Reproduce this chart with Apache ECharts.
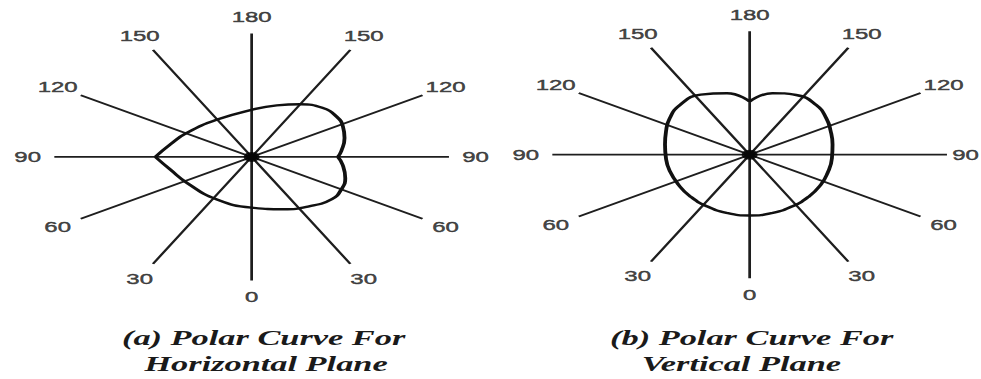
<!DOCTYPE html>
<html>
<head>
<meta charset="utf-8">
<title>Polar Curves</title>
<script src="https://cdn.jsdelivr.net/npm/echarts@6/dist/echarts.min.js"></script>
<style>
  html, body { margin: 0; padding: 0; background: #fff; overflow: hidden; width: 981px; height: 379px; }
  /* the diagrams are drawn round and then widened to the page width */
  #chart { width: 614px; height: 379px; transform: scaleX(1.59772); transform-origin: 0 0; }
</style>
</head>
<body>
<div id="chart"></div>
<script>
// Spoke directions (0 at the bottom, going round through 90 on the left and 180 at the top)
const spokeAngles = [0, 30, 60, 90, 120, 150, 180, 210, 240, 270, 300, 330];
// Text written at the end of each spoke
const tickLabels  = ['0', '30', '60', '90', '120', '150', '180', '150', '120', '90', '60', '30'];

// (a) Horizontal plane: upper arc, from the point on the left over the top to the notch on the right
const hUpperAngle  = [90,    104,   121,   150,   180,   197,   210,   222,   233,   242,   252,   264,   270];
const hUpperRadius = [0.488, 0.424, 0.381, 0.349, 0.381, 0.436, 0.492, 0.535, 0.54,  0.524, 0.495, 0.457, 0.437];
// (a) Horizontal plane: lower arc, from the notch on the right under the bottom back to the point
const hLowerAngle  = [270,   278,   290,   300,   310,   324,   339,   360,   27,    57,    76,    90];
const hLowerRadius = [0.437, 0.466, 0.505, 0.525, 0.531, 0.495, 0.454, 0.411, 0.387, 0.389, 0.425, 0.488];

// (b) Vertical plane: heart shape, starting and ending at the notch at 180
const vAngle  = [180,   193,   206,   220,   233,   245,   259,   274,   291,   304,   318,   332,   346,   360,
                 14,    28,    42,    56,    72,    86,    101,   114,   126,   139,   153,   167,   180];
const vRadius = [0.431, 0.511, 0.538, 0.525, 0.487, 0.453, 0.428, 0.418, 0.422, 0.435, 0.452, 0.47,  0.485, 0.492,
                 0.485, 0.47,  0.452, 0.435, 0.426, 0.425, 0.437, 0.464, 0.501, 0.536, 0.546, 0.511, 0.431];

// Diagram captions
const captions = [
  ['(a) Polar Curve For', 'Horizontal Plane'],
  ['(b) Polar Curve For', 'Vertical Plane']
];

const toPolar = (radii, angles) => radii.map((r, i) => [r, angles[i]]);

const LABEL_RADIUS = 1.135;   // spoke text sits just beyond the spoke ends (radius axis runs 0..1)

const curveStyle = { color: '#111', width: 2.4 };
const titleText = {
  fontFamily: 'Liberation Serif',
  fontStyle: 'italic',
  fontWeight: 'bold',
  fontSize: 21.5,
  color: '#1a1a1a'
};

// spoke-end texts for one diagram, as an invisible scatter carrying labels
function spokeLabels(polarIndex) {
  return {
    type: 'scatter',
    coordinateSystem: 'polar',
    polarIndex: polarIndex,
    silent: true,
    clip: false,
    symbol: 'circle',
    symbolSize: 0.1,
    itemStyle: { color: 'rgba(0,0,0,0)' },
    data: spokeAngles.map((a, i) => {
      const item = { value: [LABEL_RADIUS, a], name: tickLabels[i] };
      // keep the right-hand "90" of the second diagram inside the page
      if (polarIndex === 1 && a === 270) item.label = { offset: [-5, 0] };
      return item;
    }),
    label: {
      show: true,
      position: 'inside',
      formatter: p => p.name,
      color: '#1a1a1a',
      fontFamily: 'Liberation Sans',
      fontSize: 15,
      textBorderColor: '#1a1a1a',
      textBorderWidth: 0.45
    }
  };
}

const chart = echarts.init(document.getElementById('chart'), null, { renderer: 'svg' });

chart.setOption({
  animation: false,
  backgroundColor: '#fff',
  title: [
    { text: captions[0][0], left: 165, top: 326, textAlign: 'center', padding: 0, textStyle: titleText },
    { text: captions[0][1], left: 166.5, top: 352, textAlign: 'center', padding: 0, textStyle: titleText },
    { text: captions[1][0], left: 470.5, top: 326, textAlign: 'center', padding: 0, textStyle: titleText },
    { text: captions[1][1], left: 464, top: 352, textAlign: 'center', padding: 0, textStyle: titleText }
  ],
  polar: [
    { center: [157.5, 156.9], radius: 123.5 },
    { center: [469.2, 154.7], radius: 123.5 }
  ],
  angleAxis: [0, 1].map(i => ({
    polarIndex: i,
    type: 'value',
    min: 0,
    max: 360,
    interval: 30,
    startAngle: 270,
    clockwise: true,
    axisLine: { show: false },
    axisTick: { show: false },
    axisLabel: { show: false },
    splitLine: { show: true, lineStyle: { color: '#1e1e1e', width: 1.7 } }
  })),
  radiusAxis: [0, 1].map(i => ({ polarIndex: i, type: 'value', min: 0, max: 1, show: false })),
  series: [
    { type: 'line', coordinateSystem: 'polar', polarIndex: 0, data: toPolar(hUpperRadius, hUpperAngle),
      smooth: 0.5, symbol: 'none', lineStyle: curveStyle },
    { type: 'line', coordinateSystem: 'polar', polarIndex: 0, data: toPolar(hLowerRadius, hLowerAngle),
      smooth: 0.5, symbol: 'none', lineStyle: curveStyle },
    { type: 'line', coordinateSystem: 'polar', polarIndex: 1, data: toPolar(vRadius, vAngle),
      smooth: 0.5, symbol: 'none', lineStyle: curveStyle },
    { type: 'scatter', coordinateSystem: 'polar', polarIndex: 0, data: [[0, 0]],
      symbolSize: 10, itemStyle: { color: '#000' } },
    { type: 'scatter', coordinateSystem: 'polar', polarIndex: 1, data: [[0, 0]],
      symbolSize: 10, itemStyle: { color: '#000' } },
    spokeLabels(0),
    spokeLabels(1)
  ]
});
</script>
</body>
</html>
